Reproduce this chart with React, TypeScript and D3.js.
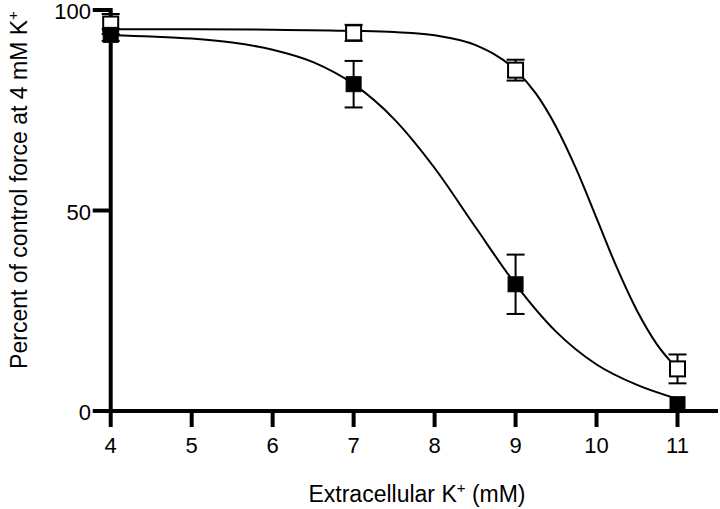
import React from 'react';
import * as d3 from 'd3';

const concentrations = [4, 7, 9, 11];
const filledMean = [93.8, 81.5, 31.6, 1.7];
const filledErr = [1.5, 5.8, 7.4, 0];
const openMean = [96.5, 94.3, 85.0, 10.5];
const openErr = [2.5, 2.0, 2.6, 3.6];

const filledCurveX = [4, 4.5, 5, 5.5, 6, 6.5, 7, 7.5, 8, 8.5, 9, 9.5, 10, 10.5, 11];
const filledCurveY = [93.7, 93.4, 92.9, 91.9, 90.1, 87.0, 81.5, 72.8, 60.6, 46.0, 31.6, 19.8, 11.6, 6.5, 3.0];
const openCurveX = [4, 5, 6, 7, 7.5, 8, 8.5, 9, 9.25, 9.5, 9.75, 10, 10.25, 10.5, 10.75, 11];
const openCurveY = [95.2, 95.2, 95.1, 94.8, 94.5, 93.7, 91.3, 85.0, 79.2, 70.9, 60.3, 48.1, 35.8, 25.0, 16.5, 10.5];

const xTicks = [4, 5, 6, 7, 8, 9, 10, 11];
const yTicks = [0, 50, 100];

const W = 720;
const H = 509;
const FONT = '"Liberation Sans", Arial, Helvetica, sans-serif';

export default function App() {
  const x = d3.scaleLinear().domain([4, 11.5]).range([110.7, 718]);
  const y = d3.scaleLinear().domain([0, 100]).range([411, 10]);
  const line = d3
    .line<[number, number]>()
    .x((d) => x(d[0]))
    .y((d) => y(d[1]))
    .curve(d3.curveMonotoneX);
  const filledPts = filledCurveX.map((v, i) => [v, filledCurveY[i]] as [number, number]);
  const openPts = openCurveX.map((v, i) => [v, openCurveY[i]] as [number, number]);
  const sq = 15;
  const cap = 9;
  const x0 = x(4);
  const yBase = y(0);

  const errBar = (cx: number, m: number, e: number, key: string) => {
    if (e <= 0) return null;
    const top = y(m + e);
    const bot = y(m - e);
    return (
      <g key={key} stroke="#000" strokeWidth={2}>
        <line x1={x(cx)} x2={x(cx)} y1={top} y2={bot} />
        <line x1={x(cx) - cap} x2={x(cx) + cap} y1={top} y2={top} />
        <line x1={x(cx) - cap} x2={x(cx) + cap} y1={bot} y2={bot} />
      </g>
    );
  };

  return (
    <svg width={W} height={H} style={{ position: 'absolute', left: 0, top: 0, background: '#fff' }} fontFamily={FONT}>
      <rect width={W} height={H} fill="#fff" />
      {/* curves */}
      <path d={line(openPts) || ''} fill="none" stroke="#000" strokeWidth={2} />
      <path d={line(filledPts) || ''} fill="none" stroke="#000" strokeWidth={2} />
      {/* error bars */}
      {concentrations.map((c, i) => errBar(c, openMean[i], openErr[i], 'oe' + i))}
      {concentrations.map((c, i) => errBar(c, filledMean[i], filledErr[i], 'fe' + i))}
      {/* axes */}
      <line x1={x0} x2={x0} y1={y(100) - 2} y2={yBase + 2} stroke="#000" strokeWidth={4} />
      <line x1={x0 - 2} x2={x(11.5)} y1={yBase} y2={yBase} stroke="#000" strokeWidth={4} />
      {yTicks.map((t) => (
        <g key={'yt' + t}>
          <line x1={x0 - 18} x2={x0} y1={y(t)} y2={y(t)} stroke="#000" strokeWidth={4} />
          <text x={91} y={y(t) + 9} textAnchor="end" fontSize={22} fill="#000">
            {t}
          </text>
        </g>
      ))}
      {xTicks.map((t) => (
        <g key={'xt' + t}>
          <line x1={x(t)} x2={x(t)} y1={yBase} y2={yBase + 16} stroke="#000" strokeWidth={4} />
          <text x={x(t)} y={453} textAnchor="middle" fontSize={22} fill="#000">
            {t}
          </text>
        </g>
      ))}
      {/* open squares */}
      {concentrations.map((c, i) => (
        <rect
          key={'os' + i}
          x={x(c) - sq / 2}
          y={y(openMean[i]) - sq / 2}
          width={sq}
          height={sq}
          fill="#fff"
          stroke="#000"
          strokeWidth={2}
        />
      ))}
      {/* filled squares */}
      {concentrations.map((c, i) => (
        <rect
          key={'fs' + i}
          x={x(c) - sq / 2}
          y={y(filledMean[i]) - sq / 2}
          width={sq}
          height={sq}
          fill="#000"
          stroke="#000"
          strokeWidth={1}
        />
      ))}
      {/* axis titles */}
      <text x={417} y={502} textAnchor="middle" fontSize={23} fill="#000">
        Extracellular K
        <tspan fontSize={15} dy={-9}>+</tspan>
        <tspan dy={9}> (mM)</tspan>
      </text>
      <text
        transform={`translate(27,190) rotate(-90)`}
        textAnchor="middle"
        fontSize={23}
        fill="#000"
      >
        Percent of control force at 4 mM K
        <tspan fontSize={15} dy={-9}>+</tspan>
      </text>
    </svg>
  );
}
